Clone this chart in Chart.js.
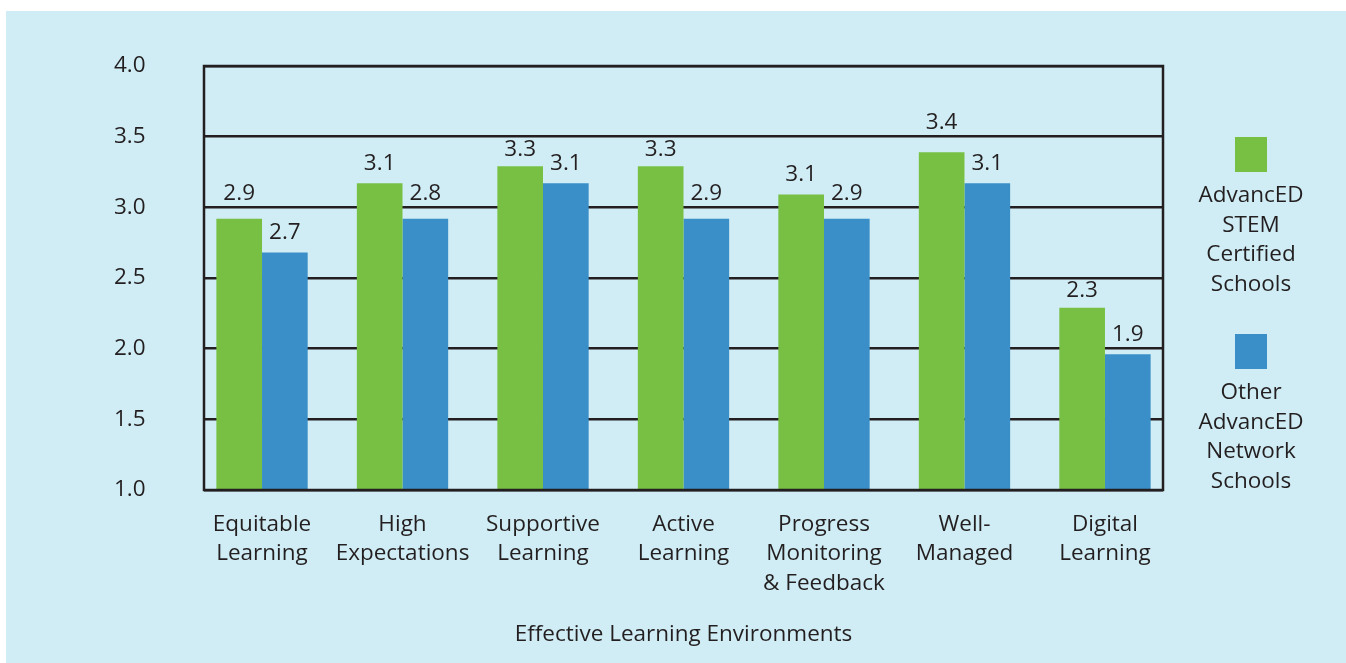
<!DOCTYPE html>
<html>
<head>
<meta charset="utf-8">
<script src="https://cdn.jsdelivr.net/npm/chart.js@4/dist/chart.umd.min.js"></script>
<style>
    html, body { margin: 0; padding: 0; background: #fff; }
    #khung { position: absolute; left: 6px; top: 11px; width: 1340px; height: 652px; background: #d0edf5; }
</style>
</head>
<body>
<div id="khung"><canvas id="bieuDo" width="1340" height="652"></canvas></div>
<script>
const categories = [
    ['Equitable', 'Learning'],
    ['High', 'Expectations'],
    ['Supportive', 'Learning'],
    ['Active', 'Learning'],
    ['Progress', 'Monitoring', '& Feedback'],
    ['Well-', 'Managed'],
    ['Digital', 'Learning']
];
const stemValues = [2.92, 3.17, 3.29, 3.29, 3.09, 3.39, 2.29];
const otherValues = [2.68, 2.92, 3.17, 2.92, 2.92, 3.17, 1.96];
const stemLabels = ['2.9', '3.1', '3.3', '3.3', '3.1', '3.4', '2.3'];
const otherLabels = ['2.7', '2.8', '3.1', '2.9', '2.9', '3.1', '1.9'];
const seriesNames = [
    ['AdvancED', 'STEM', 'Certified', 'Schools'],
    ['Other', 'AdvancED', 'Network', 'Schools']
];
const axisTitle = 'Effective Learning Environments';

const MAU_CHU = '#231f20';
const FONT = '"Open Sans", sans-serif';
const CO_CHU = 22.5;
const XANH_LA = '#77c043';
const XANH_DUONG = '#3a8fc8';

// nhan so tren cot (tranh de len duong luoi)
const nhanCot = {
    id: 'nhanCot',
    afterDatasetsDraw(chart) {
        const ctx = chart.ctx;
        const dsLabels = [stemLabels, otherLabels];
        const yScale = chart.scales.y;
        const luoi = yScale.ticks.map(t => yScale.getPixelForValue(t.value));
        ctx.save();
        ctx.font = CO_CHU + 'px ' + FONT;
        ctx.fillStyle = MAU_CHU;
        ctx.textAlign = 'center';
        ctx.textBaseline = 'middle';
        chart.data.datasets.forEach((ds, i) => {
            chart.getDatasetMeta(i).data.forEach((bar, j) => {
                let y = bar.y - 20;
                luoi.forEach(g => {
                    if (Math.abs(y - g) < 10) {
                        // duoi duong luoi neu con cho, khong thi len tren
                        y = (bar.y - (g + 13) >= 12) ? g + 13 : g - 14;
                    }
                });
                ctx.fillText(dsLabels[i][j], bar.x, y);
            });
        });
        ctx.restore();
    }
};

// khung den quanh vung ve + chu thich ben phai
const khungVaChuThich = {
    id: 'khungVaChuThich',
    afterDraw(chart) {
        const ctx = chart.ctx;
        const a = chart.chartArea;
        ctx.save();
        ctx.strokeStyle = MAU_CHU;
        ctx.lineWidth = 2.5;
        ctx.strokeRect(a.left, a.top, a.right - a.left, a.bottom - a.top);

        const cx = a.right + 88;
        const colors = [XANH_LA, XANH_DUONG];
        const tops = [a.top + 71, a.top + 268];
        ctx.font = CO_CHU + 'px ' + FONT;
        ctx.fillStyle = MAU_CHU;
        ctx.textAlign = 'center';
        ctx.textBaseline = 'middle';
        seriesNames.forEach((lines, i) => {
            ctx.fillStyle = colors[i];
            ctx.fillRect(cx - 16, tops[i], 32, 35);
            ctx.fillStyle = MAU_CHU;
            lines.forEach((t, k) => {
                ctx.fillText(t, cx, tops[i] + 59 + k * 29.5);
            });
        });
        ctx.restore();
    }
};

new Chart(document.getElementById('bieuDo').getContext('2d'), {
    type: 'bar',
    data: {
        datasets: [
            {
                label: seriesNames[0].join(' '),
                data: stemValues.map((v, i) => ({ x: i, y: v })),
                backgroundColor: XANH_LA
            },
            {
                label: seriesNames[1].join(' '),
                data: otherValues.map((v, i) => ({ x: i, y: v })),
                backgroundColor: XANH_DUONG
            }
        ]
    },
    options: {
        responsive: false,
        animation: false,
        categoryPercentage: 0.65,
        barPercentage: 1.0,
        layout: { padding: { top: 55, right: 183, left: 108, bottom: 0 } },
        plugins: {
            legend: { display: false },
            tooltip: { enabled: false }
        },
        scales: {
            x: {
                type: 'linear',
                offset: false,
                min: -0.413,
                max: 6.413,
                afterBuildTicks: (scale) => {
                    scale.ticks = categories.map((c, i) => ({ value: i }));
                },
                afterFit: (scale) => { scale.height = 173; },
                grid: { display: false },
                border: { display: false },
                ticks: {
                    color: MAU_CHU,
                    font: { family: FONT, size: CO_CHU, lineHeight: 1.3 },
                    padding: 12,
                    maxRotation: 0,
                    autoSkip: false,
                    callback: (v) => categories[v]
                },
                title: {
                    display: true,
                    text: axisTitle,
                    color: MAU_CHU,
                    font: { family: FONT, size: CO_CHU },
                    padding: { top: 0, bottom: 15 }
                }
            },
            y: {
                min: 1,
                max: 4,
                afterFit: (scale) => { scale.width = 90; },
                grid: { color: MAU_CHU, lineWidth: 2.5, drawTicks: false },
                border: { display: false },
                ticks: {
                    stepSize: 0.5,
                    color: MAU_CHU,
                    font: { family: FONT, size: CO_CHU },
                    padding: 0,
                    crossAlign: 'far',
                    callback: (v) => v.toFixed(1)
                }
            }
        }
    },
    plugins: [nhanCot, khungVaChuThich]
});
</script>
</body>
</html>
